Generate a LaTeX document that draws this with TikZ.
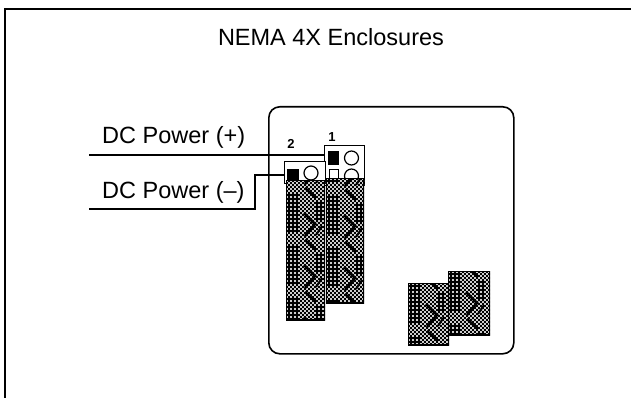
\documentclass[tikz,border=0pt]{standalone}
\usepackage{fontspec}
\setmainfont{Liberation Sans}
\newcommand{\modtex}[5]{% x0 y0 x1 y1 motifstart
  \begin{scope}
    \clip (#1,#2) rectangle (#3,#4);
    \fill[black] (#1,#2) rectangle (#3,#4);
    \fill[white!80!black] \foreach \ii in {0,4,...,48}{\foreach \jj in {0,4,...,150}{({#1+\ii},{#2+\jj}) rectangle ++(1.8,1.8)}};
    \fill[white!80!black] \foreach \ii in {2,6,...,50}{\foreach \jj in {2,6,...,150}{({#1+\ii},{#2+\jj}) rectangle ++(1.8,1.8)}};
    \foreach \kk in {-52,0,52,104}{
      \draw[chev] ({#1+19},{#5+\kk}) -- ({#1+30},{#5+\kk+10});
      \draw[chev] ({#1+18},{#5+\kk+25}) -- ({#1+29},{#5+\kk+36}) -- ({#1+19},{#5+\kk+48});
      \draw[chev,line width=2pt] ({#1+36},{#5+\kk+38}) -- ({#1+30},{#5+\kk+47});
      \foreach \ii in {2,6,10}{\draw[latt] ({#1+\ii+1},{#5+\kk+6}) -- ({#1+\ii+1},{#5+\kk+44});}
      \foreach \ii in {30,34}{\draw[latt] ({#1+\ii+1},{#5+\kk+14}) -- ({#1+\ii+1},{#5+\kk+34});}
    }
    \draw[black,line width=2pt] (#1,#2) rectangle (#3,#4);
  \end{scope}}
\tikzset{
  x=1pt,y=-1pt,
  chev/.style={black,line width=2.6pt},
  latt/.style={black,line width=2pt,dash pattern=on 2pt off 2pt},
  heavy/.style={line width=2pt,black},
  wire/.style={line width=1.4pt,black},
  modbox/.style={draw=black,line width=1.4pt,fill=white,inner sep=0pt,anchor=north west},
  term/.style={fill=black,inner sep=0pt,anchor=north west},
  port/.style={draw=black,line width=1.2pt,circle,inner sep=0pt,minimum size=14pt,fill=white},
  lbl/.style={inner sep=0pt,font=\fontsize{23.5}{26}\selectfont},
  num/.style={inner sep=0pt,font=\bfseries\fontsize{13}{14}\selectfont}
}
\begin{document}
\begin{tikzpicture}
\useasboundingbox (0,0) rectangle (631,398);
\fill[white] (0,0) rectangle (631,398);
% frame
\draw[heavy] (631,9.5) -- (5,9.5) -- (5,398);
\node[lbl] (title) at (331,37) {NEMA 4X Enclosures};
% enclosure
\node[draw=black,line width=1.6pt,rounded corners=11pt,minimum width=245pt,minimum height=247pt,inner sep=0pt,anchor=north west] (enc) at (268,106) {};
% module 1
\node[modbox,minimum width=40pt,minimum height=40pt] (m1) at (324,145) {};
\node[term,minimum width=11pt,minimum height=14pt] (t1) at (328,151) {};
\node[port] (p1) at (351.5,158) {};
\node[draw=black,line width=1.1pt,fill=white,inner sep=0pt,minimum width=9pt,minimum height=10pt,anchor=north west] (s1) at (329,169) {};
\node[port] (q1) at (351.5,176) {};
\modtex{326}{178}{364}{303}{190}
% module 2
\node[modbox,minimum width=41pt,minimum height=22pt] (m2) at (284,161) {};
\node[term,minimum width=12pt,minimum height=12pt] (t2) at (287,169) {};
\node[port] (p2) at (311,173) {};
\modtex{286}{180}{325}{320}{188}
\node[num] (n1) at (332,137) {1};
\node[num] (n2) at (291,144) {2};
% lower modules
\modtex{448}{271}{490}{335}{267}
\modtex{408}{283}{449}{345}{279}
% labels
\node[lbl,anchor=west] (lp) at (102,137) {DC Power (+)};
\node[lbl,anchor=west] (lm) at (102,192) {DC Power (–)};
% wires
\coordinate (wp) at (89,155);
\coordinate (wm) at (89,209);
\coordinate (bend) at (255,209);
\draw[wire] (wp) -- (wp -| m1.west);
\draw[wire] (wm) -- (bend) -- (bend |- t2.west) -- (bend |- t2.west -| m2.west);
\end{tikzpicture}
\end{document}
